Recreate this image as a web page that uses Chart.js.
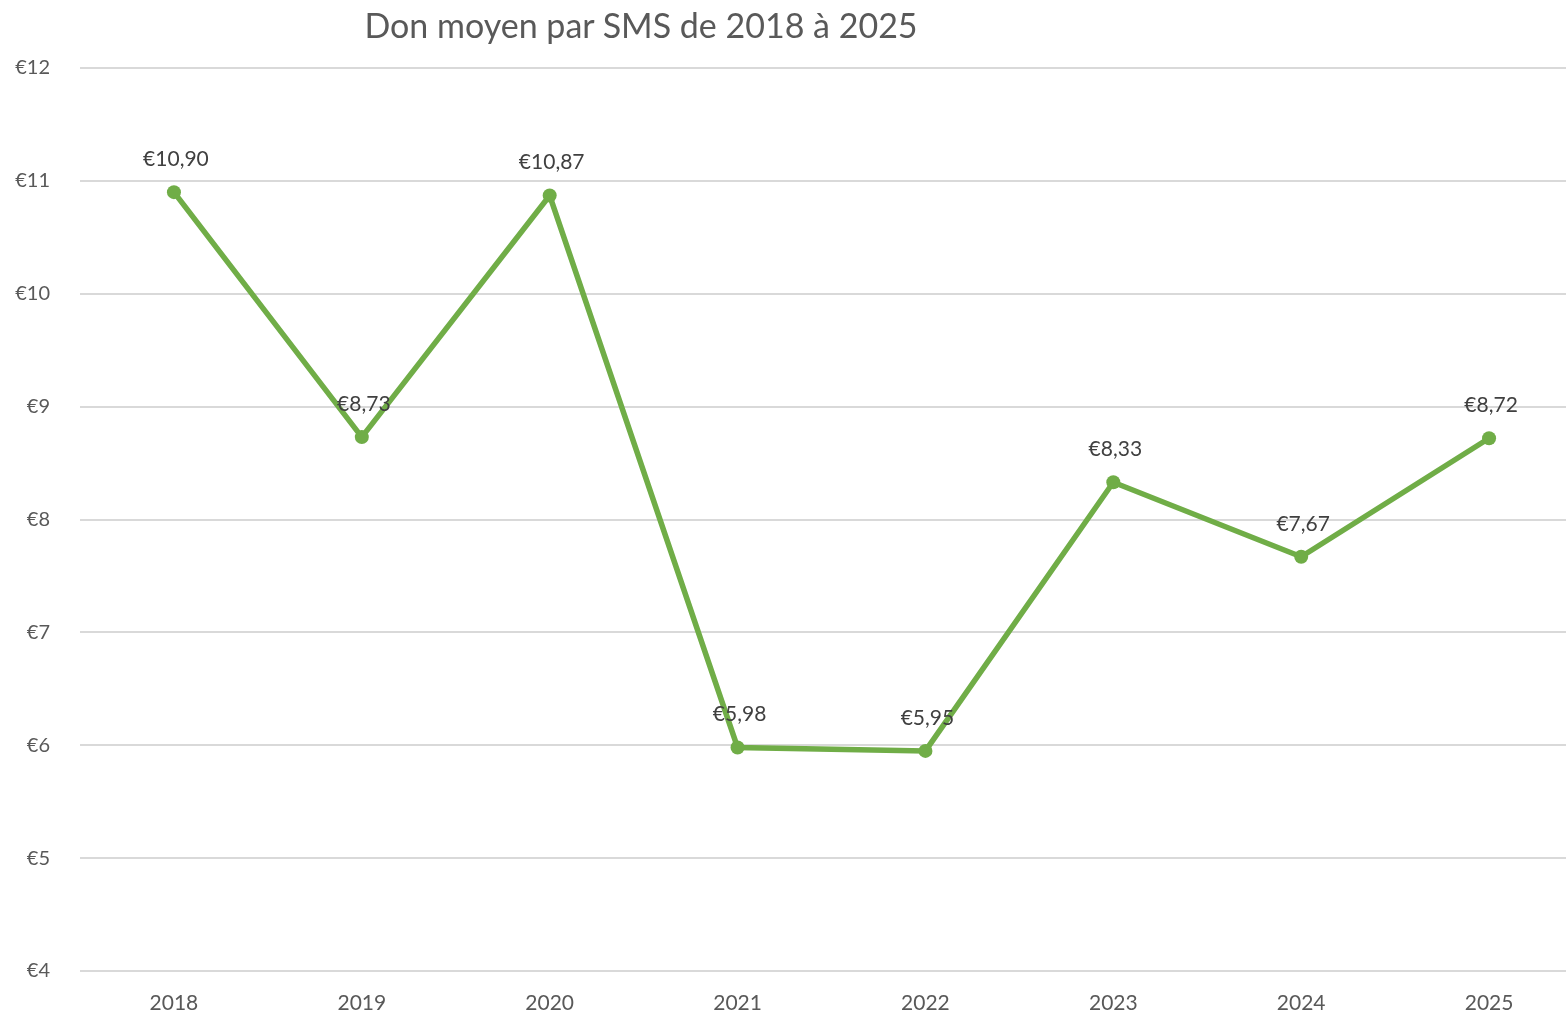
<!DOCTYPE html>
<html>
<head>
<meta charset="utf-8">
<script src="https://cdn.jsdelivr.net/npm/chart.js@4"></script>
<style>
    html, body { margin: 0; padding: 0; background: #ffffff; overflow: hidden; }
    #wrap { position: relative; width: 1590px; height: 1013px; }
    #title {
        position: absolute; left: 0; width: 1282px; top: 4px;
        text-align: center; font-family: Lato, 'Open Sans', sans-serif;
        font-size: 34px; color: #595959;
    }
</style>
</head>
<body>
<div id="wrap">
    <div id="title">Don moyen par SMS de 2018 à 2025</div>
    <canvas id="smsChart" width="1590" height="1013"></canvas>
</div>
<script>
const years = ['2018', '2019', '2020', '2021', '2022', '2023', '2024', '2025'];
const avgDonation = [10.90, 8.73, 10.87, 5.98, 5.95, 8.33, 7.67, 8.72];
const yMin = 4;
const yMax = 12;

const euro = (v) => '€' + v.toFixed(2).replace('.', ',');

// draws the value above each point, like the spreadsheet data labels
const valueLabels = {
    id: 'valueLabels',
    afterDatasetsDraw(chart) {
        const ctx = chart.ctx;
        const meta = chart.getDatasetMeta(0);
        ctx.save();
        ctx.font = '21px Lato, "Open Sans", sans-serif';
        ctx.fillStyle = '#404040';
        ctx.textAlign = 'center';
        ctx.textBaseline = 'middle';
        meta.data.forEach((pt, i) => {
            ctx.fillText(euro(avgDonation[i]), pt.x + 2, pt.y - 33);
        });
        ctx.restore();
    }
};

const ctx = document.getElementById('smsChart').getContext('2d');
new Chart(ctx, {
    type: 'line',
    data: {
        labels: years,
        datasets: [{
            label: 'Don moyen',
            data: avgDonation,
            borderColor: '#70ad47',
            backgroundColor: '#70ad47',
            borderWidth: 5.5,
            pointRadius: 7,
            pointBackgroundColor: '#70ad47',
            pointBorderWidth: 0,
            tension: 0
        }]
    },
    options: {
        responsive: false,
        animation: false,
        layout: { padding: { top: 68, left: 0, right: 0, bottom: 0 } },
        plugins: {
            legend: { display: false },
            tooltip: { enabled: false }
        },
        scales: {
            x: {
                offset: true,
                grid: { display: false, drawTicks: false },
                border: { display: false },
                ticks: {
                    color: '#595959',
                    padding: 20,
                    font: { family: 'Lato', size: 21 }
                },
                afterFit: (s) => { s.height = 41; }
            },
            y: {
                min: yMin,
                max: yMax,
                grid: { color: '#d9d9d9', lineWidth: 2, drawTicks: false },
                border: { display: false },
                ticks: {
                    stepSize: 1,
                    color: '#595959',
                    padding: 30,
                    font: { family: 'Lato', size: 20 },
                    callback: (v) => '€' + v
                },
                afterFit: (s) => { s.width = 80; }
            }
        }
    },
    plugins: [valueLabels]
});
</script>
</body>
</html>
